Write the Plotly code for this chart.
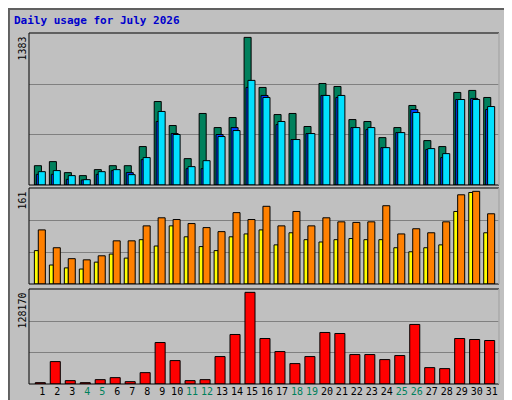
import plotly.graph_objects as go

days = list(range(1, 32))
weekends = [4, 5, 11, 12, 18, 19, 25, 26]

hits = [181, 219, 116, 88, 144, 181, 181, 360, 782, 557, 247, 670, 538, 632, 1383, 914,
        660, 670, 548, 951, 923, 613, 595, 444, 538, 745, 416, 360, 867, 886, 820]
files = [100, 100, 53, 47, 100, 135, 116, 238, 595, 482, 153, 153, 473, 538, 914, 839,
         566, 426, 482, 839, 820, 538, 519, 350, 491, 707, 332, 257, 801, 811, 707]
pages = [125, 135, 88, 50, 125, 144, 97, 257, 689, 473, 172, 228, 454, 510, 980, 820,
         595, 426, 482, 839, 839, 538, 538, 350, 491, 679, 341, 294, 801, 801, 735]
visits = [94, 63, 44, 42, 49, 75, 75, 101, 115, 112, 105, 98, 91, 124, 112, 135,
          101, 126, 101, 115, 108, 107, 108, 136, 87, 96, 89, 108, 155, 161, 122]
sites = [58, 33, 28, 26, 38, 52, 45, 77, 66, 101, 82, 65, 58, 82, 87, 94,
         68, 89, 77, 73, 77, 79, 77, 77, 63, 56, 63, 68, 126, 159, 89]
kbytes = [1871, 31340, 4678, 1871, 6081, 8888, 3275, 15905, 58007, 32744, 4678, 6081,
          38360, 69234, 128170, 63620, 45377, 28536, 38360, 72041, 70637, 41167, 41167,
          34149, 39764, 83268, 22922, 21519, 63620, 62216, 60813]

fig = go.Figure()
line = dict(color="black", width=1)


def bar(y, color, off, w, ax):
    fig.add_trace(go.Bar(x=days, y=y, marker=dict(color=color, line=line),
                         offset=off, width=w, xaxis="x", yaxis=ax, showlegend=False))


bar(hits, "#00805C", -0.53, 0.47, "y")
bar(files, "#0040FF", -0.40, 0.47, "y")
bar(pages, "#00E0FF", -0.27, 0.47, "y")
bar(sites, "#FFFF00", -0.53, 0.27, "y2")
bar(visits, "#FF8000", -0.27, 0.47, "y2")
bar(kbytes, "#FF0000", -0.47, 0.67, "y3")

mono = "DejaVu Sans Mono"
ticktext = [f'<span style="color:#00805C">{d}</span>' if d in weekends else str(d) for d in days]

W, H = 512, 400
L, R, T, B = 21, 21, 25, 24
ph = H - T - B


def dom(top, bot):
    return [1 - (bot - T) / ph, 1 - (top - T) / ph]


def yax(mx, d):
    return dict(domain=d, range=[0, mx], tickvals=[mx * 0.33, mx * 0.66],
                showticklabels=False, showgrid=True, gridcolor="#808080",
                zeroline=False, fixedrange=True)


fig.update_layout(
    width=W, height=H, barmode="overlay",
    margin=dict(l=L, r=R, t=T, b=B),
    paper_bgcolor="#C0C0C0", plot_bgcolor="#C0C0C0",
    font=dict(family=mono, size=10, color="black"),
    xaxis=dict(range=[0.11, 31.49], tickvals=days, ticktext=ticktext, anchor="y3",
               showgrid=False, zeroline=False, ticks="", tickangle=0,
               tickfont=dict(size=10)),
    yaxis=yax(1424, dom(25, 177)),
    yaxis2=yax(166.8, dom(180, 276)),
    yaxis3=yax(132848, dom(281, 376)),
)

shapes = [dict(type="rect", xref="paper", yref="paper", x0=-L / (W - L - R) + 0.002,
               x1=1 + R / (W - L - R) - 0.002, y0=-B / ph + 0.003, y1=1 + T / ph - 0.003,
               line=dict(color="#606060", width=2), layer="below")]
for top, bot in [(25, 177), (180, 276), (281, 376)]:
    d = dom(top, bot)
    shapes.append(dict(type="rect", xref="paper", yref="paper", x0=0, x1=1,
                       y0=d[0], y1=d[1], line=dict(color="black", width=1)))
    shapes.append(dict(type="line", xref="paper", yref="paper", x0=1, x1=1,
                       y0=d[0], y1=d[1], line=dict(color="white", width=1)))
fig.update_layout(shapes=shapes)


def ann(text, x, y, xanchor, yanchor, angle=0, size=11, color="black", bold=False):
    fig.add_annotation(text=f"<b>{text}</b>" if bold else text, xref="paper", yref="paper",
                       x=x, y=y, xanchor=xanchor, yanchor=yanchor, textangle=angle,
                       showarrow=False, font=dict(family=mono, size=size, color=color))


def px(xp, yp):
    return (xp - L) / (W - L - R), 1 - (yp - T) / ph


x0, y0 = px(4, 4)
ann("Daily usage for July 2026", x0, y0, "left", "top", size=11, color="#0000CC", bold=True)
for label, top in [("1383", 27), ("161", 182), ("128170", 283)]:
    xx, yy = px(6, top)
    ann(label, xx, yy, "left", "top", angle=-90, size=10)

xr, _ = px(494, 0)
_, yt = px(0, 27)
ann('<span style="color:#00E0FF">Pages</span> / <span style="color:#0040FF">Files</span>'
    ' / <span style="color:#00805C">Hits</span>', xr, yt, "left", "top", angle=-90, size=10)
_, yt = px(0, 183)
ann('<span style="color:#FF8000">Sites</span> / <span style="color:#FFFF00">Visits</span>',
    xr, yt, "left", "top", angle=-90, size=10)
_, yb = px(0, 376)
ann('<span style="color:#FF0000">KBytes</span>', xr, yb, "left", "bottom", angle=-90, size=10)

fig.write_html("out.html")
